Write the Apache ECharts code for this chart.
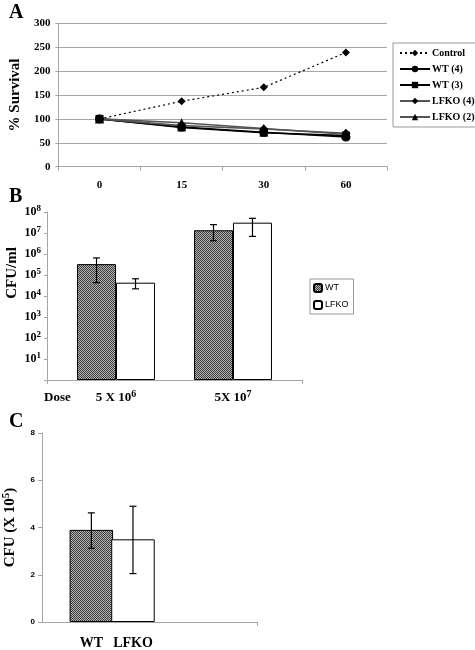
<!DOCTYPE html>
<html>
<head>
<meta charset="utf-8">
<script src="https://cdn.jsdelivr.net/npm/echarts@6/dist/echarts.min.js"></script>
<style>html,body{margin:0;padding:0;background:#fff}#c{width:475px;height:650px}</style>
</head>
<body>
<div id="c"></div>
<script>
// ---- Panel A data ----
const timeCats = ['0', '15', '30', '60'];
const controlA = [100, 137, 166, 239];
const wt4A = [100, 83, 72, 62];
const wt3A = [100, 82, 71, 65];
const lfko4A = [100, 86, 79, 70];
const lfko2A = [100, 92, 80, 68];
const yTicksA = [0, 50, 100, 150, 200, 250, 300];

// ---- Panel B data ----
const doseLabels = ['5 X 10{s|6}', '5X 10{s|7}'];
const wtB = [3.3e5, 1.35e7];
const wtBLow = [4.3e4, 4.3e6];
const wtBHigh = [6.5e5, 2.5e7];
const lfkoB = [4.3e4, 3.1e7];
const lfkoBLow = [2.2e4, 6.9e6];
const lfkoBHigh = [6.6e4, 5.0e7];

// ---- Panel C data ----
const genoC = ['WT', 'LFKO'];
const cfuC = [3.9, 3.5];
const cfuCLow = [3.12, 2.05];
const cfuCHigh = [4.62, 4.9];

const SERIF = '"Liberation Serif", "DejaVu Serif", serif';
const SANS = '"Liberation Sans", Arial, sans-serif';
const GRAY = '#a6a6a6';

// hatch pattern
const pc = document.createElement('canvas');
pc.width = 2; pc.height = 2;
const pctx = pc.getContext('2d');
pctx.fillStyle = '#b0b0b0'; pctx.fillRect(0, 0, 2, 2);
pctx.fillStyle = '#404040'; pctx.fillRect(0, 0, 1, 1); pctx.fillRect(1, 1, 1, 1);
const hatch = { image: pc, repeat: 'repeat' };

function errRender(params, api) {
  const x = api.value(0), lo = api.value(1), hi = api.value(2);
  const pHi = api.coord([x, hi]);
  const pLo = api.coord([x, lo]);
  const w = 3.5;
  const st = { stroke: '#000', lineWidth: 1.2 };
  return {
    type: 'group',
    children: [
      { type: 'line', shape: { x1: pHi[0], y1: pHi[1], x2: pLo[0], y2: pLo[1] }, style: st },
      { type: 'line', shape: { x1: pHi[0] - w, y1: pHi[1], x2: pHi[0] + w, y2: pHi[1] }, style: st },
      { type: 'line', shape: { x1: pLo[0] - w, y1: pLo[1], x2: pLo[0] + w, y2: pLo[1] }, style: st }
    ]
  };
}

// B x positions: groups spaced 3 bar widths, bars at +-0.5
const wtBData = wtB.map((v, i) => [i * 3 - 0.5, v]);
const lfkoBData = lfkoB.map((v, i) => [i * 3 + 0.5, v]);
const errBData = [];
wtB.forEach((v, i) => errBData.push([i * 3 - 0.5, wtBLow[i], wtBHigh[i]]));
lfkoB.forEach((v, i) => errBData.push([i * 3 + 0.5, lfkoBLow[i], lfkoBHigh[i]]));

const cData = cfuC.map((v, i) => ({
  value: [i, v],
  itemStyle: { color: i === 0 ? hatch : '#fff', borderColor: '#000', borderWidth: 1 }
}));
const errCData = cfuC.map((v, i) => [i, cfuCLow[i], cfuCHigh[i]]);

const lineBase = {
  type: 'line', xAxisIndex: 0, yAxisIndex: 0,
  itemStyle: { color: '#000' },
  lineStyle: { color: '#000', width: 1.6 },
  emphasis: { disabled: true }, animation: false
};

const chart = echarts.init(document.getElementById('c'), null, { renderer: 'canvas' });
chart.setOption({
  animation: false,
  title: [
    { text: 'A', left: 4, top: -2, textStyle: { fontFamily: SERIF, fontWeight: 'bold', fontSize: 20, color: '#000' } },
    { text: 'B', left: 4, top: 182, textStyle: { fontFamily: SERIF, fontWeight: 'bold', fontSize: 20, color: '#000' } },
    { text: 'C', left: 4, top: 407, textStyle: { fontFamily: SERIF, fontWeight: 'bold', fontSize: 20, color: '#000' } }
  ],
  graphic: [
    { type: 'text', left: 44, top: 391, style: { text: 'Dose', font: 'bold 13px ' + SERIF, fill: '#000' } },
    { type: 'text', x: 12, y: 273, rotation: Math.PI / 2,
      style: { text: 'CFU/ml', font: 'bold 15px ' + SERIF, fill: '#000', align: 'center', verticalAlign: 'middle' } }
  ],
  legend: [
    {
      data: ['Control', 'WT (4)', 'WT (3)', 'LFKO (4)', 'LFKO (2)'],
      orient: 'vertical', left: 393, top: 43,
      itemWidth: 30, itemHeight: 8, itemGap: 6,
      borderColor: '#999', borderWidth: 1, padding: [5, 12, 5, 6],
      textStyle: { fontFamily: SERIF, fontWeight: 'bold', fontSize: 10, color: '#000', padding: [0, 0, 0, -3] },
      selectedMode: false
    },
    {
      data: ['WT', 'LFKO'],
      orient: 'vertical', left: 310, top: 279,
      itemWidth: 8, itemHeight: 8, itemGap: 7,
      borderColor: '#999', borderWidth: 1, padding: [4, 5, 4, 3],
      textStyle: { fontFamily: SANS, fontSize: 9, color: '#000', padding: [0, 0, 0, -2] },
      selectedMode: false
    }
  ],
  grid: [
    { left: 47, top: 23.3, width: 340, height: 143.4 },
    { left: 47, top: 212, width: 255, height: 168 },
    { left: 35, top: 433, width: 222, height: 190 }
  ],
  xAxis: [
    {
      gridIndex: 0, type: 'category', data: timeCats, boundaryGap: true,
      axisLine: { lineStyle: { color: GRAY } },
      axisTick: { show: true, length: 4, lineStyle: { color: GRAY } },
      axisLabel: { fontFamily: SERIF, fontWeight: 'bold', fontSize: 11, color: '#000', margin: 13 }
    },
    {
      gridIndex: 1, type: 'value', min: -1.77, max: 4.77,
      splitLine: { show: false },
      axisLine: { onZero: false, lineStyle: { color: GRAY } },
      axisTick: { show: true, customValues: [-1.77, 4.77], length: 4, lineStyle: { color: GRAY } },
      axisLabel: {
        customValues: [0, 3],
        formatter: v => doseLabels[Math.round(v / 3)] || '',
        fontFamily: SERIF, fontWeight: 'bold', fontSize: 13, color: '#000', margin: 9,
        rich: { s: { fontFamily: SERIF, fontWeight: 'bold', fontSize: 10, color: '#000', verticalAlign: 'top', padding: [0, 0, 8, 0] } }
      }
    },
    {
      gridIndex: 2, type: 'value', min: -1.186, max: 3.98,
      splitLine: { show: false },
      axisLine: { onZero: false, lineStyle: { color: GRAY } },
      axisTick: { show: true, customValues: [3.98], length: 4, lineStyle: { color: GRAY } },
      axisLabel: {
        customValues: [0, 1],
        formatter: v => genoC[Math.round(v)] || '',
        fontFamily: SERIF, fontWeight: 'bold', fontSize: 14, color: '#000', margin: 14
      }
    }
  ],
  yAxis: [
    {
      gridIndex: 0, type: 'value', min: 0, max: 300, interval: 50,
      name: '% Survival', nameLocation: 'middle', nameGap: 35, nameRotate: 90,
      nameTextStyle: { fontFamily: SERIF, fontWeight: 'bold', fontSize: 15, color: '#000' },
      axisLine: { show: true, lineStyle: { color: GRAY } },
      axisTick: { show: true, length: 3, lineStyle: { color: GRAY } },
      splitLine: { lineStyle: { color: GRAY } },
      axisLabel: { fontFamily: SERIF, fontWeight: 'bold', fontSize: 11, color: '#000', margin: 8,
        formatter: v => yTicksA.includes(v) ? String(v) : '' }
    },
    {
      gridIndex: 1, type: 'log', logBase: 10, min: 1, max: 1e8,
      splitLine: { show: false },
      axisLine: { show: true, onZero: false, lineStyle: { color: GRAY } },
      axisTick: { show: true, length: 3, lineStyle: { color: GRAY } },
      axisLabel: {
        fontFamily: SERIF, fontWeight: 'bold', fontSize: 12, color: '#000', margin: 6,
        formatter: v => {
          const n = Math.round(Math.log10(v));
          return n === 0 ? '' : '{b|10}{s|' + n + '}';
        },
        rich: {
          b: { fontFamily: SERIF, fontWeight: 'bold', fontSize: 12, color: '#000' },
          s: { fontFamily: SERIF, fontWeight: 'bold', fontSize: 9, color: '#000', verticalAlign: 'top', padding: [0, 0, 7, 0] }
        }
      }
    },
    {
      gridIndex: 2, type: 'value', min: 0, max: 8, interval: 2,
      name: '{a|CFU (X 10}{s|5}{a|)}', nameLocation: 'middle', nameGap: 22, nameRotate: 90,
      nameTextStyle: {
        rich: {
          a: { fontFamily: SERIF, fontWeight: 'bold', fontSize: 15, color: '#000' },
          s: { fontFamily: SERIF, fontWeight: 'bold', fontSize: 11, color: '#000', verticalAlign: 'top', padding: [0, 0, 8, 0] }
        }
      },
      splitLine: { show: false },
      axisLine: { show: true, onZero: false, lineStyle: { color: GRAY } },
      axisTick: { show: true, length: 4, lineStyle: { color: GRAY } },
      axisLabel: { fontFamily: SANS, fontWeight: 'bold', fontSize: 8, color: '#000', margin: 7 }
    }
  ],
  series: [
    Object.assign({}, lineBase, { name: 'Control', data: controlA, symbol: 'diamond', symbolSize: 8,
      lineStyle: { color: '#000', width: 1.2, type: [2, 3] } }),
    Object.assign({}, lineBase, { name: 'WT (4)', data: wt4A, symbol: 'circle', symbolSize: 9 }),
    Object.assign({}, lineBase, { name: 'WT (3)', data: wt3A, symbol: 'rect', symbolSize: 8 }),
    Object.assign({}, lineBase, { name: 'LFKO (4)', data: lfko4A, symbol: 'diamond', symbolSize: 9,
      lineStyle: { color: '#555', width: 1.6 } }),
    Object.assign({}, lineBase, { name: 'LFKO (2)', data: lfko2A, symbol: 'triangle', symbolSize: 9,
      lineStyle: { color: '#555', width: 1.6 } }),
    {
      name: 'WT', type: 'bar', xAxisIndex: 1, yAxisIndex: 1, data: wtBData,
      barWidth: 39, barGap: '-100%',
      itemStyle: { color: hatch, borderColor: '#000', borderWidth: 1 }
    },
    {
      name: 'LFKO', type: 'bar', xAxisIndex: 1, yAxisIndex: 1, data: lfkoBData,
      barWidth: 39, barGap: '-100%',
      itemStyle: { color: '#fff', borderColor: '#000', borderWidth: 1 }
    },
    { type: 'custom', xAxisIndex: 1, yAxisIndex: 1, data: errBData, renderItem: errRender, z: 5 },
    {
      type: 'bar', xAxisIndex: 2, yAxisIndex: 2, data: cData, barWidth: 43.5
    },
    { type: 'custom', xAxisIndex: 2, yAxisIndex: 2, data: errCData, renderItem: errRender, z: 5 }
  ]
});
</script>
</body>
</html>
